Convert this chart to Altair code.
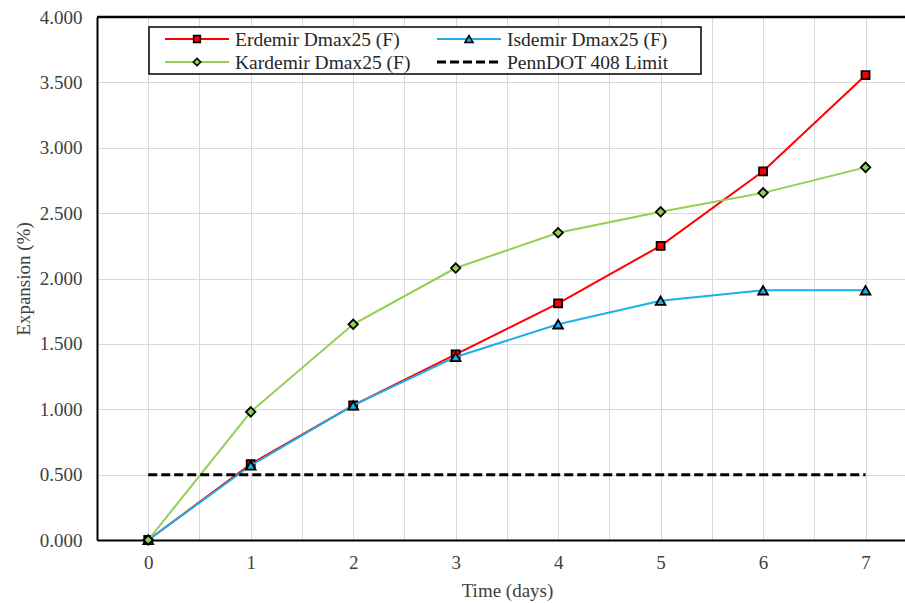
import altair as alt
import pandas as pd

days = [0, 1, 2, 3, 4, 5, 6, 7]
erdemir = [0.0, 0.58, 1.03, 1.42, 1.81, 2.25, 2.82, 3.555]
isdemir = [0.0, 0.57, 1.03, 1.40, 1.65, 1.83, 1.91, 1.91]
kardemir = [0.0, 0.98, 1.65, 2.08, 2.35, 2.51, 2.655, 2.85]
limit_days = [0, 7]
limit_vals = [0.5, 0.5]

names = ["Erdemir Dmax25 (F)", "Isdemir Dmax25 (F)", "Kardemir Dmax25 (F)", "PennDOT 408 Limit"]
y_ticks = [0, 0.5, 1.0, 1.5, 2.0, 2.5, 3.0, 3.5, 4.0]
x_grid = [-0.5, 0, 0.5, 1, 1.5, 2, 2.5, 3, 3.5, 4, 4.5, 5, 5.5, 6, 6.5, 7, 7.5]

W, H = 808, 523
FONT = "Liberation Serif"
TXT = "#404040"

xs = alt.Scale(domain=[-0.5, 7.385], nice=False, zero=False)
ys = alt.Scale(domain=[0, 4], nice=False)

xaxis = alt.Axis(values=x_grid, labelExpr="datum.value % 1 == 0 ? datum.value : ''",
                 grid=True, gridColor="#d9d9d9", gridWidth=1, ticks=False,
                 domainColor="black", domainWidth=2, labelFont=FONT, labelFontSize=19,
                 labelColor=TXT, labelPadding=13, title="Time (days)", titleFont=FONT,
                 titleFontSize=19, titleFontWeight="normal", titleColor=TXT,
                 titlePadding=9, titleX=410, titleAnchor="middle")
yaxis = alt.Axis(values=y_ticks, format=".3f", grid=True, gridColor="#d9d9d9", gridWidth=1,
                 ticks=False, domainColor="black", domainWidth=2, labelFont=FONT,
                 labelFontSize=19, labelColor=TXT, labelPadding=15, title="Expansion (%)",
                 titleFont=FONT, titleFontSize=19, titleFontWeight="normal", titleColor=TXT,
                 titlePadding=6)


def series(vals, color, shape, fill, size):
    df = pd.DataFrame({"day": days, "val": vals})
    base = alt.Chart(df)
    line = base.mark_line(color=color, strokeWidth=2).encode(
        x=alt.X("day:Q", scale=xs, axis=xaxis), y=alt.Y("val:Q", scale=ys, axis=yaxis))
    pts = base.mark_point(shape=shape, filled=True, fill=fill, stroke="black",
                          strokeWidth=1.8, size=size, opacity=1).encode(
        x=alt.X("day:Q", scale=xs), y=alt.Y("val:Q", scale=ys))
    return line + pts


RED, BLUE, GREEN = "#ff0000", "#1cb0ea", "#92d050"

limit_df = pd.DataFrame({"day": limit_days, "val": limit_vals})
limit = alt.Chart(limit_df).mark_line(color="black", strokeWidth=3, strokeDash=[9, 4]).encode(
    x=alt.X("day:Q", scale=xs), y=alt.Y("val:Q", scale=ys))

one = pd.DataFrame({"a": [0]})
top_border = alt.Chart(one).mark_rule(color="black", strokeWidth=2.5).encode(
    y=alt.datum(4, scale=ys), x=alt.value(0), x2=alt.value(W))

# legend
leg_box = alt.Chart(one).mark_rect(fill="white", stroke="black", strokeWidth=1.5).encode(
    x=alt.value(52), x2=alt.value(604), y=alt.value(10), y2=alt.value(57))


def leg_entry(x0, y0, color, dash, shape, fill, size, label):
    layers = []
    rule_kw = dict(color=color, strokeWidth=3 if dash else 2)
    if dash:
        rule_kw["strokeDash"] = [9, 4]
    layers.append(alt.Chart(one).mark_rule(**rule_kw).encode(
        x=alt.value(x0), x2=alt.value(x0 + 64), y=alt.value(y0)))
    if shape:
        layers.append(alt.Chart(one).mark_point(shape=shape, filled=True, fill=fill,
                                                stroke="black", strokeWidth=1.6, size=size,
                                                opacity=1).encode(
            x=alt.value(x0 + 32), y=alt.value(y0)))
    layers.append(alt.Chart(one).mark_text(text=label, align="left", baseline="middle",
                                           font=FONT, fontSize=19.5, color="#262626").encode(
        x=alt.value(x0 + 70), y=alt.value(y0 + 1)))
    return alt.layer(*layers)


legend = alt.layer(
    leg_box,
    leg_entry(68, 22, RED, False, "square", RED, 45, names[0]),
    leg_entry(340, 22, BLUE, False, "triangle-up", BLUE, 65, names[1]),
    leg_entry(68, 45, GREEN, False, "diamond", GREEN, 55, names[2]),
    leg_entry(340, 45, "black", True, None, None, 0, names[3]),
)

chart = alt.layer(
    series(erdemir, RED, "square", RED, 64),
    series(isdemir, BLUE, "triangle-up", BLUE, 95),
    series(kardemir, GREEN, "diamond", GREEN, 90),
    limit,
    top_border,
    legend,
).properties(
    width=W, height=H,
    autosize=alt.AutoSizeParams(type="none"),
    padding={"left": 97, "top": 17, "right": 0, "bottom": 63},
).configure_view(stroke=None).configure(background="white")

chart.save("out.html", embed_options={"renderer": "svg", "actions": False})
